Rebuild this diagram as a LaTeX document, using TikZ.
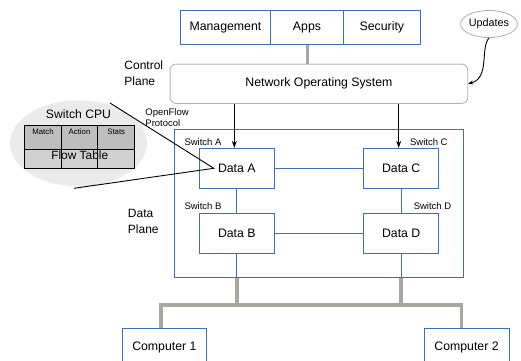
\documentclass[tikz,border=0pt]{standalone}
\usepackage{fontspec}
\setmainfont{Liberation Sans}
\usepackage{xcolor}
\usetikzlibrary{arrows.meta,shapes.geometric}
\definecolor{blueln}{HTML}{3F6EB5}
\definecolor{busgray}{HTML}{ABA69F}
\definecolor{nosgray}{HTML}{B4B4B4}
\definecolor{cpugray}{HTML}{EBEBEB}
\definecolor{headgray}{HTML}{BEBEBE}
\definecolor{rowgray}{HTML}{D0D0D0}
\tikzset{
  blk/.style={draw=blueln, fill=white, inner sep=0pt, font=\fontsize{12.3}{14}\selectfont},
  lbl/.style={inner sep=0pt, font=\fontsize{9.5}{11.6}\selectfont},
  side/.style={inner sep=0pt, anchor=west, align=left, font=\fontsize{12}{15.5}\selectfont},
  cell/.style={draw=black, inner sep=0pt},
  bus/.style={draw=busgray, line width=3.5pt},
  ctl/.style={-{Stealth[length=7pt,width=5pt]}, black}
}
\begin{document}
\begin{tikzpicture}[x=1pt,y=-1pt,line width=0.9pt]
    \useasboundingbox (0,0) rectangle (521,360);
    \node[blk, minimum width=90, minimum height=34] (mgmt) at (225.4,27.5) {Management};
    \node[blk, minimum width=73.4, minimum height=34] (apps) at (307,27.5) {Apps};
    \node[blk, minimum width=76.3, minimum height=34] (sec) at (381.9,27.5) {Security};
    \node[draw=nosgray, rounded corners=6, inner sep=0pt, minimum width=297.7, minimum height=39.3,
          font=\fontsize{12.3}{14}\selectfont] (nos) at (318.9,83.7) {Network Operating System};
    \node[ellipse, draw=nosgray, inner sep=0pt, minimum width=52, minimum height=27,
          font=\fontsize{10.8}{12}\selectfont] (upd) at (489,24) {Updates};
    \draw[bus, line width=3pt] (apps.south) -- (apps.south |- nos.north);
    \draw[-{Stealth[length=5pt,width=4pt]}] (upd.south) .. controls (480,48) and (490,78) .. (nos.east);
    \node[side] (ctrl) at (124,73) {Control\\Plane};
    \node[side] (dpl) at (127.5,221.5) {Data\\Plane};
    \node[lbl, anchor=west, align=left] (ofp) at (145,117.5) {OpenFlow\\Protocol};
    \node[draw=blueln, inner sep=0pt, minimum width=289, minimum height=148.7] (plane) at (318.8,203.4) {};
    \node[blk, minimum width=75, minimum height=40] (dataA) at (236.8,168.3) {Data A};
    \node[blk, minimum width=75, minimum height=40] (dataC) at (401.2,168.3) {Data C};
    \node[blk, minimum width=75, minimum height=40] (dataB) at (236.8,233.3) {Data B};
    \node[blk, minimum width=75, minimum height=40] (dataD) at (401.2,233.3) {Data D};
    \node[lbl] (swA) at (203,142) {Switch A};
    \node[lbl] (swC) at (428.8,142) {Switch C};
    \node[lbl] (swB) at (203,206) {Switch B};
    \node[lbl] (swD) at (432.5,206) {Switch D};
    \draw[ctl] ([xshift=-2.5]dataA.north |- nos.south) -- ([xshift=-2.5]dataA.north);
    \draw[ctl] ([xshift=-2.5]dataC.north |- nos.south) -- ([xshift=-2.5]dataC.north);
    \draw[blueln] (dataA) -- (dataC);
    \draw[blueln] (dataB) -- (dataD);
    \draw[blueln] (dataA) -- (dataB);
    \draw[blueln] (dataC) -- (dataD);
    \draw[blueln] (dataB.south) -- (dataB |- plane.south);
    \draw[blueln] (dataD.south) -- (dataD |- plane.south);
    \coordinate (busL) at (161,305);
    \coordinate (busR) at (461.7,305);
    \node[blk, minimum width=84.7, minimum height=38] (comp1) at (164.4,347) {Computer 1};
    \node[blk, minimum width=85, minimum height=38] (comp2) at (466.5,347) {Computer 2};
    \draw[bus] (dataB |- plane.south) -- (dataB |- busL);
    \draw[bus] (dataD |- plane.south) -- (dataD |- busL);
    \draw[bus, line cap=rect] (busL) -- (busR);
    \draw[bus] (busL) -- (busL |- comp1.north);
    \draw[bus] (busR) -- (busR |- comp2.north);
    \node[ellipse, fill=cpugray, inner sep=0pt, minimum width=137, minimum height=86] (cpu) at (78.5,143.3) {};
    \node[font=\fontsize{12.2}{14}\selectfont, inner sep=0pt] (cpuname) at (78.5,114) {Switch CPU};
    \node[cell, fill=headgray, minimum width=36.6, minimum height=24.3] (match) at (43,137.2) {};
    \node[cell, fill=headgray, minimum width=36.4, minimum height=24.3] (action) at (79.5,137.2) {};
    \node[cell, fill=headgray, minimum width=37, minimum height=24.3] (stats) at (116.2,137.2) {};
    \node[cell, fill=rowgray, minimum width=36.6, minimum height=18.7] (row1) at (43,158.7) {};
    \node[cell, fill=rowgray, minimum width=36.4, minimum height=18.7] (row2) at (79.5,158.7) {};
    \node[cell, fill=rowgray, minimum width=37, minimum height=18.7] (row3) at (116.2,158.7) {};
    \node[font=\fontsize{7.8}{9}\selectfont, anchor=north, inner sep=0pt] at ([yshift=-3.5]match.north) {Match};
    \node[font=\fontsize{7.8}{9}\selectfont, anchor=north, inner sep=0pt] at ([yshift=-3.5]action.north) {Action};
    \node[font=\fontsize{7.8}{9}\selectfont, anchor=north, inner sep=0pt] at ([yshift=-3.5]stats.north) {Stats};
    \node[font=\fontsize{11.9}{14}\selectfont, inner sep=0pt] (flow) at (79.7,155.5) {Flow Table};
    \coordinate (cpuTop) at (110,103);
    \coordinate (cpuBot) at (74,188.3);
    \coordinate (dA) at ([xshift=-23]dataA.center);
    \draw (cpuTop) -- (dA) -- (cpuBot);
\end{tikzpicture}
\end{document}
